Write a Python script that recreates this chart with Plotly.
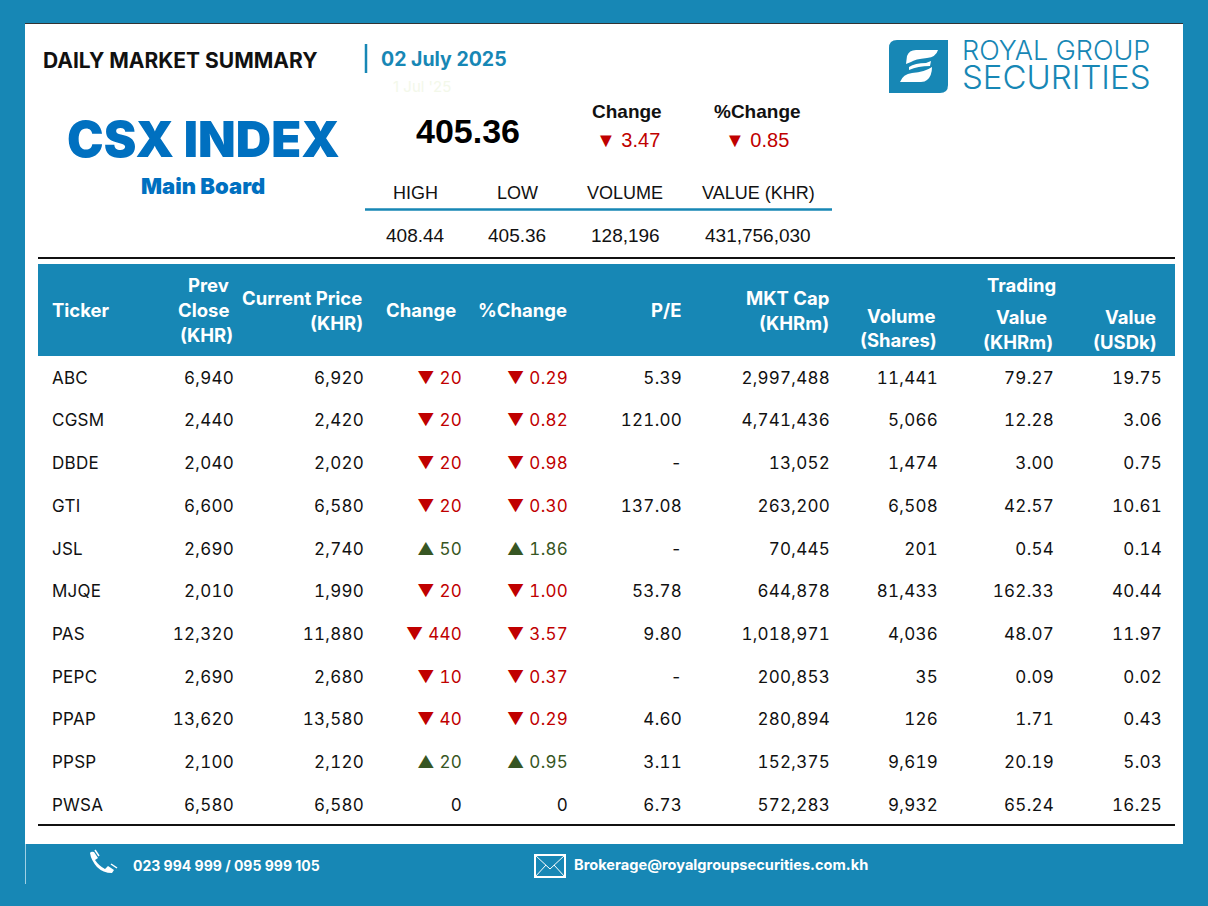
import plotly.graph_objects as go

# table data
tickers = ["ABC", "CGSM", "DBDE", "GTI", "JSL", "MJQE", "PAS", "PEPC", "PPAP", "PPSP", "PWSA"]
prev_close = ["6,940", "2,440", "2,040", "6,600", "2,690", "2,010", "12,320", "2,690", "13,620", "2,100", "6,580"]
current_price = ["6,920", "2,420", "2,020", "6,580", "2,740", "1,990", "11,880", "2,680", "13,580", "2,120", "6,580"]
change = [-20, -20, -20, -20, 50, -20, -440, -10, -40, 20, 0]
pct_change = [-0.29, -0.82, -0.98, -0.30, 1.86, -1.00, -3.57, -0.37, -0.29, 0.95, 0]
pe = ["5.39", "121.00", "-", "137.08", "-", "53.78", "9.80", "-", "4.60", "3.11", "6.73"]
mkt_cap = ["2,997,488", "4,741,436", "13,052", "263,200", "70,445", "644,878", "1,018,971", "200,853", "280,894", "152,375", "572,283"]
volume = ["11,441", "5,066", "1,474", "6,508", "201", "81,433", "4,036", "35", "126", "9,619", "9,932"]
value_khr = ["79.27", "12.28", "3.00", "42.57", "0.54", "162.33", "48.07", "0.09", "1.71", "20.19", "65.24"]
value_usd = ["19.75", "3.06", "0.75", "10.61", "0.14", "40.44", "11.97", "0.02", "0.43", "5.03", "16.25"]

# summary data
index_close = "405.36"
index_change = "▼ 3.47"
index_pct = "▼ 0.85"
summary_heads = ["HIGH", "LOW", "VOLUME", "VALUE (KHR)"]
summary_vals = ["408.44", "405.36", "128,196", "431,756,030"]
summary_x = [415, 517, 625, 758]

BLUE = "#1787b5"
RED = "#c00000"
GREEN = "#375623"
BODY = "Inter"
ROW_Y = [379.5 + i * 42.7 for i in range(len(tickers))]


def signed(v, fmt):
    if v == 0:
        return "0"
    arrow = "▼" if v < 0 else "▲"
    return arrow + " " + fmt.format(abs(v))


def sign_color(v):
    return RED if v < 0 else GREEN if v > 0 else "#111111"


fig = go.Figure()


def column(x, text, pos="middle left", color="#111111"):
    fig.add_trace(go.Scatter(x=[x] * len(tickers), y=ROW_Y, text=text, mode="text", textposition=pos,
                             textfont=dict(family=BODY, size=17, color=color),
                             hoverinfo="skip", showlegend=False))


column(52, tickers, "middle right")
column(234, prev_close)
column(364, current_price)
column(462, [signed(v, "{:d}") for v in change], color=[sign_color(v) for v in change])
column(568, [signed(v, "{:.2f}") for v in pct_change], color=[sign_color(v) for v in pct_change])
column(682, pe)
column(830, mkt_cap)
column(938, volume)
column(1054, value_khr)
column(1162, value_usd)

shapes = [
    dict(type="rect", x0=25, x1=1183, y0=23, y1=844, fillcolor="white", line_width=0, layer="below"),
    dict(type="line", x0=25, x1=1183, y0=23.5, y1=23.5, line=dict(color="#333333", width=1)),
    dict(type="line", x0=25.5, x1=25.5, y0=844, y1=884, line=dict(color="#9fd0e4", width=1)),
    dict(type="line", x0=366, x1=366, y0=44, y1=73, line=dict(color=BLUE, width=2.5)),
    dict(type="line", x0=365, x1=832, y0=209.5, y1=209.5, line=dict(color=BLUE, width=2.5)),
    dict(type="line", x0=38, x1=1175, y0=258, y1=258, line=dict(color="#111111", width=2)),
    dict(type="rect", x0=38, x1=1175, y0=264, y1=356, fillcolor=BLUE, line_width=0, layer="below"),
    dict(type="line", x0=38, x1=1175, y0=825, y1=825, line=dict(color="#111111", width=2)),
    # logo
    dict(type="path", path="M 897 40 L 948 40 L 948 85 Q 948 93 940 93 L 889 93 L 889 48 Q 889 40 897 40 Z",
         fillcolor=BLUE, line_width=0),
    dict(type="path", path="M 907 56 Q 909 50 916 50 L 938 50 Q 936 57 927 58 Q 915 59 911 62 L 906 64 Z",
         fillcolor="white", line_width=0),
    dict(type="path", path="M 909 67 Q 915 63 926 63 L 931 61 L 930 66 Q 918 66 909 70 Z",
         fillcolor="white", line_width=0),
    dict(type="path", path="M 900 82 Q 903 74 912 73 Q 925 72 932 67 Q 932 76 927 80 Q 925 82 921 82 Z",
         fillcolor="white", line_width=0),
    # phone icon
    dict(type="path", path="M 90 853 Q 91 851 94 852 L 98 858 L 95 860 Q 99 866 105 869 L 108 866 L 114 870 "
                           "L 112 873 Q 103 873 97 867 Q 91 860 90 853 Z",
         fillcolor="white", line_width=0),
    dict(type="line", x0=95, x1=99, y0=850, y1=856, line=dict(color="white", width=1.5)),
    dict(type="line", x0=111, x1=117, y0=864, y1=868, line=dict(color="white", width=1.5)),
    # envelope icon
    dict(type="rect", x0=535, x1=565, y0=855, y1=877, fillcolor=BLUE, line=dict(color="white", width=2)),
    dict(type="path", path="M 535 855 L 550 869 L 565 855 M 535 877 L 546 865 M 565 877 L 554 865",
         line=dict(color="white", width=1)),
]

HEAD = 18.5
texts = [
    # heading block
    (43, 60, "<b>DAILY MARKET SUMMARY</b>", "left", BODY, 21, "#111111", None),
    (381, 59, "<b>02 July 2025</b>", "left", BODY, 19.5, BLUE, None),
    (393, 86, "1 Jul '25", "left", BODY, 15, "#f3f8ea", None),
    (203, 139, "CSX INDEX", "center", BODY, 49, "#0070c0", 900),
    (203, 186, "Main Board", "center", BODY, 22, "#0070c0", 900),
    (468, 131, "<b>" + index_close + "</b>", "center", "Liberation Sans", 34, "#000000", None),
    (627, 111, "<b>Change</b>", "center", "Liberation Sans", 19, "#111111", None),
    (757, 111, "<b>%Change</b>", "center", "Liberation Sans", 19, "#111111", None),
    (628, 140, index_change, "center", "Liberation Sans", 20, RED, None),
    (757, 140, index_pct, "center", "Liberation Sans", 20, RED, None),
    # logo words
    (962, 50, "ROYAL GROUP", "left", BODY, 27, BLUE, 300),
    (962, 77, "SECURITIES", "left", BODY, 33, BLUE, 300),
    # footer
    (133, 865, "<b>023 994 999 / 095 999 105</b>", "left", BODY, 14, "white", None),
    (574, 865, "<b>Brokerage@royalgroupsecurities.com.kh</b>", "left", BODY, 14.6, "white", None),
    # table head
    (52, 310, "<b>Ticker</b>", "left", BODY, HEAD, "white", None),
    (229, 285, "<b>Prev</b>", "right", BODY, HEAD, "white", None),
    (229, 310, "<b>Close</b>", "right", BODY, HEAD, "white", None),
    (233, 335, "<b>(KHR)</b>", "right", BODY, HEAD, "white", None),
    (362, 298, "<b>Current Price</b>", "right", BODY, HEAD, "white", None),
    (363, 323, "<b>(KHR)</b>", "right", BODY, HEAD, "white", None),
    (456, 310, "<b>Change</b>", "right", BODY, HEAD, "white", None),
    (567, 310, "<b>%Change</b>", "right", BODY, HEAD, "white", None),
    (681, 310, "<b>P/E</b>", "right", BODY, HEAD, "white", None),
    (829, 298, "<b>MKT Cap</b>", "right", BODY, HEAD, "white", None),
    (829, 323, "<b>(KHRm)</b>", "right", BODY, HEAD, "white", None),
    (901, 316, "<b>Volume</b>", "center", BODY, HEAD, "white", None),
    (898, 340, "<b>(Shares)</b>", "center", BODY, HEAD, "white", None),
    (1021, 285, "<b>Trading</b>", "center", BODY, HEAD, "white", None),
    (1021, 317, "<b>Value</b>", "center", BODY, HEAD, "white", None),
    (1018, 342, "<b>(KHRm)</b>", "center", BODY, HEAD, "white", None),
    (1130, 317, "<b>Value</b>", "center", BODY, HEAD, "white", None),
    (1125, 342, "<b>(USDk)</b>", "center", BODY, HEAD, "white", None),
]
for h, v, x in zip(summary_heads, summary_vals, summary_x):
    texts.append((x, 193, h, "center", "Liberation Sans", 18, "#111111", None))
    texts.append((x, 235, v, "center", "Liberation Sans", 19, "#111111", None))

annotations = [
    dict(x=x, y=y, text=t, xanchor=a, yanchor="middle", showarrow=False, borderpad=0, borderwidth=0,
         font=dict(family=f, size=s, color=c, weight=w))
    for x, y, t, a, f, s, c, w in texts
]

fig.update_layout(
    width=1208, height=906,
    margin=dict(l=0, r=0, t=0, b=0),
    paper_bgcolor=BLUE, plot_bgcolor=BLUE,
    xaxis=dict(range=[0, 1208], visible=False, fixedrange=True),
    yaxis=dict(range=[906, 0], visible=False, fixedrange=True),
    shapes=shapes,
    annotations=annotations,
    showlegend=False,
)

# body figures in the picture are wider set than plain Inter
post = """
document.body.style.margin = '0';
document.querySelectorAll('.textpoint text').forEach(function (t) {
    t.style.letterSpacing = '0.25px';
    t.style.fontFeatureSettings = '"tnum"';
});
"""
fig.write_html("out.html", config=dict(displayModeBar=False), post_script=post)
